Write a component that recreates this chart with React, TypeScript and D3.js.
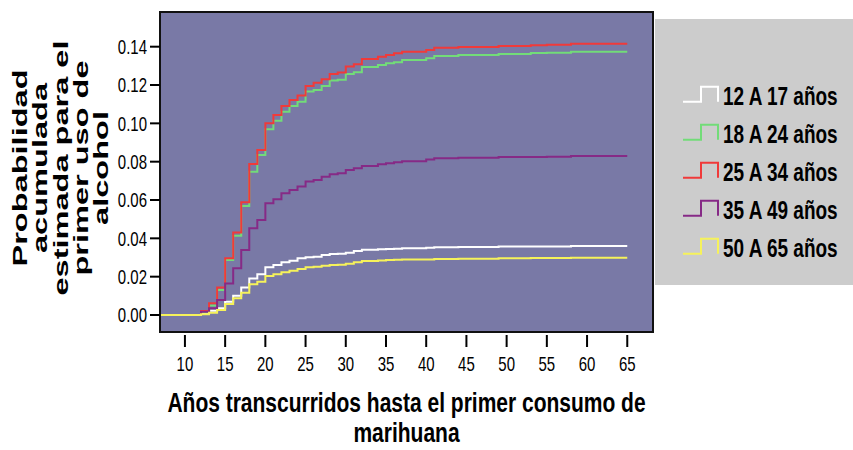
import React from "react";
import * as d3 from "d3";

const years = [7, 12, 13, 14, 15, 16, 17, 18, 19, 20, 21, 22, 23, 24, 25, 26, 27, 28, 29, 30, 31, 32, 34, 35, 36, 37, 40, 41, 44, 49, 53, 55, 58, 65];

const g12_17 = [0, 0.0008, 0.0022, 0.0035, 0.0069, 0.0101, 0.0143, 0.0191, 0.0212, 0.0249, 0.0261, 0.0275, 0.0283, 0.0296, 0.0301, 0.0304, 0.0313, 0.0318, 0.032, 0.0325, 0.0334, 0.034, 0.0343, 0.0345, 0.0346, 0.0348, 0.0351, 0.0353, 0.0355, 0.0357, 0.0357, 0.0358, 0.036, 0.036];
const g18_24 = [0, 0.0015, 0.005, 0.0131, 0.0287, 0.0414, 0.0569, 0.0748, 0.0835, 0.0969, 0.1014, 0.1061, 0.109, 0.1113, 0.1166, 0.1174, 0.1195, 0.1223, 0.1227, 0.1258, 0.1267, 0.1294, 0.1305, 0.1314, 0.1319, 0.133, 0.134, 0.1352, 0.1357, 0.1362, 0.1367, 0.1369, 0.1373, 0.1373];
const g25_34 = [0, 0.0021, 0.0061, 0.0143, 0.0296, 0.0431, 0.0588, 0.0788, 0.0861, 0.1, 0.1044, 0.109, 0.1122, 0.1145, 0.1195, 0.1212, 0.123, 0.1258, 0.1265, 0.1296, 0.1309, 0.1336, 0.1348, 0.1357, 0.1366, 0.1374, 0.1383, 0.1395, 0.1399, 0.1404, 0.1408, 0.141, 0.1415, 0.1415];
const g35_49 = [0, 0.0017, 0.0035, 0.0078, 0.0165, 0.0244, 0.0339, 0.0452, 0.0496, 0.0583, 0.0604, 0.0635, 0.0652, 0.067, 0.0696, 0.0705, 0.0722, 0.0734, 0.074, 0.0757, 0.0766, 0.0778, 0.0787, 0.0792, 0.0797, 0.0802, 0.0811, 0.0818, 0.0821, 0.0825, 0.0825, 0.0826, 0.083, 0.083];
const g50_65 = [0, 0.0004, 0.0012, 0.0026, 0.0057, 0.0087, 0.0116, 0.016, 0.0174, 0.0204, 0.0212, 0.0223, 0.0231, 0.024, 0.0249, 0.0252, 0.0257, 0.0261, 0.0262, 0.0268, 0.0275, 0.0282, 0.0285, 0.0287, 0.0288, 0.0289, 0.029, 0.0292, 0.0294, 0.0296, 0.0297, 0.0298, 0.0299, 0.0299];

const seriesNames = ["12 A 17 años", "18 A 24 años", "25 A 34 años", "35 A 49 años", "50 A 65 años"];
const seriesValues = [g12_17, g18_24, g25_34, g35_49, g50_65];
const seriesColors = ["#ffffff", "#72dc78", "#f03a3a", "#862a86", "#f6f25a"];

const xTicks = [10, 15, 20, 25, 30, 35, 40, 45, 50, 55, 60, 65];
const yTicks = [0, 0.02, 0.04, 0.06, 0.08, 0.1, 0.12, 0.14];

const xTitle = ["Años transcurridos hasta el primer consumo de", "marihuana"];
const yTitle = ["Probabilidad", "acumulada", "estimada para el", "primer uso de", "alcohol"];

const W = 853;
const H = 450;
const plot = { left: 160, right: 653, top: 12, bottom: 332 };
const FONT = "'Liberation Sans', Arial, Helvetica, sans-serif";
const SX = 0.75;

function SText({ x, y, size, weight, anchor, children, dy, sx }: any) {
  return (
    <text
      transform={`translate(${x},${y}) scale(${sx ?? SX},1)`}
      fontFamily={FONT}
      fontSize={size}
      fontWeight={weight || "normal"}
      textAnchor={anchor || "start"}
      dy={dy}
      fill="#000"
    >
      {children}
    </text>
  );
}

export default function App() {
  const x = d3.scaleLinear().domain([6.9, 68.2]).range([plot.left, plot.right]);
  const y = d3.scaleLinear().domain([-0.00887, 0.1581]).range([plot.bottom, plot.top]);
  const line = d3
    .line<number>()
    .x((_, i) => x(years[i]))
    .y((d) => y(d))
    .curve(d3.curveStepAfter);

  const legendX = 683;
  const legendY0 = 105;
  const legendStep = 38;

  return (
    <svg width={W} height={H} style={{ position: "absolute", left: 0, top: 0, background: "#fff" }}>
      <rect x={0} y={0} width={W} height={H} fill="#fff" />
      {/* legend box */}
      <rect x={655} y={19} width={W - 655} height={266} fill="#cccccc" />
      {/* plot area */}
      <rect x={plot.left} y={plot.top} width={plot.right - plot.left} height={plot.bottom - plot.top} fill="#7979a6" />
      {seriesValues.map((vals, i) => (
        <path key={i} d={line(vals) || ""} fill="none" stroke={seriesColors[i]} strokeWidth={2} />
      ))}
      <rect x={plot.left} y={plot.top} width={plot.right - plot.left} height={plot.bottom - plot.top} fill="none" stroke="#111" strokeWidth={2} />
      {/* y axis */}
      {yTicks.map((t) => (
        <g key={t}>
          <line x1={plot.left - 10} x2={plot.left} y1={y(t)} y2={y(t)} stroke="#000" strokeWidth={2} />
          <SText x={147} y={y(t)} size={20} anchor="end" dy="0.36em">
            {d3.format(".2f")(t)}
          </SText>
        </g>
      ))}
      {/* x axis */}
      {xTicks.map((t) => (
        <g key={t}>
          <line x1={x(t)} x2={x(t)} y1={335} y2={347} stroke="#000" strokeWidth={2} />
          <SText x={x(t)} y={371} size={20} anchor="middle">
            {t}
          </SText>
        </g>
      ))}
      {/* x title */}
      {xTitle.map((s, i) => (
        <SText key={i} x={(plot.left + plot.right) / 2} y={412 + i * 30} size={28} weight="bold" anchor="middle">
          {s}
        </SText>
      ))}
      {/* y title */}
      <g transform={`translate(0,168) rotate(-90) scale(1.55,1)`}>
        {yTitle.map((s, i) => (
          <text key={i} x={0} y={27 + i * 20.3} fontFamily={FONT} fontSize={21} fontWeight="bold" textAnchor="middle" fill="#000">
            {s}
          </text>
        ))}
      </g>
      {/* legend */}
      {seriesNames.map((s, i) => {
        const by = legendY0 + i * legendStep;
        const b = by - 3.3;
        const tp = by - 18.3;
        return (
          <g key={s}>
            <path
              d={`M${legendX},${b}H${legendX + 18}V${tp}H${legendX + 35}V${b}`}
              fill="none"
              stroke={seriesColors[i]}
              strokeWidth={2}
            />
            <SText x={723} y={by} size={25} weight="bold" sx={0.76}>
              {s}
            </SText>
          </g>
        );
      })}
    </svg>
  );
}
